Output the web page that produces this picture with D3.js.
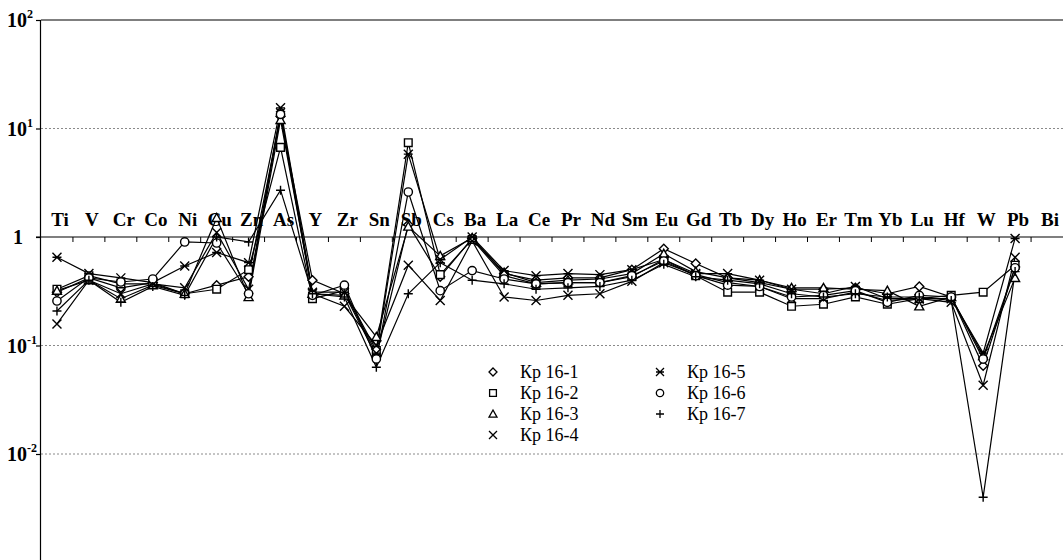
<!DOCTYPE html>
<html>
<head>
<meta charset="utf-8">
<script src="https://cdn.jsdelivr.net/npm/d3@7"></script>
<style>
  body { margin: 0; background: #fff; }
  .elem { font-family: "Liberation Serif", "Times New Roman", serif; font-weight: bold; font-size: 19px; }
  .ylab { font-family: "Liberation Serif", "Times New Roman", serif; font-weight: bold; font-size: 20px; }
  .leg { font-family: "Liberation Serif", "Times New Roman", serif; font-size: 18px; }
</style>
</head>
<body>
<div id="chart"></div>
<script>
// elements along the x axis
const elements = ["Ti","V","Cr","Co","Ni","Cu","Zn","As","Y","Zr","Sn","Sb","Cs","Ba","La","Ce","Pr","Nd","Sm","Eu","Gd","Tb","Dy","Ho","Er","Tm","Yb","Lu","Hf","W","Pb","Bi"];

// sample names
const samples = ["Кр 16-1","Кр 16-2","Кр 16-3","Кр 16-4","Кр 16-5","Кр 16-6","Кр 16-7"];

// normalised values, Ti .. Pb (no Bi data)
const kp16_1 = [0.31,0.42,0.34,0.38,0.30,0.36,0.43,13,0.40,0.30,0.080,1.3,0.43,0.97,0.46,0.40,0.42,0.42,0.50,0.78,0.57,0.42,0.38,0.33,0.33,0.34,0.30,0.35,0.28,0.065,0.53];
const kp16_2 = [0.33,0.44,0.37,0.37,0.30,0.33,0.50,6.7,0.27,0.32,0.090,7.4,0.45,0.95,0.44,0.37,0.38,0.38,0.43,0.62,0.44,0.31,0.31,0.23,0.24,0.28,0.24,0.27,0.29,0.31,0.55];
const kp16_3 = [0.32,0.40,0.27,0.36,0.30,1.5,0.28,12,0.30,0.29,0.12,1.25,0.67,0.98,0.47,0.38,0.40,0.41,0.46,0.70,0.48,0.42,0.40,0.34,0.34,0.33,0.32,0.23,0.28,0.080,0.42];
const kp16_4 = [0.158,0.40,0.30,0.37,0.34,1.1,0.33,14,0.30,0.23,0.10,0.55,0.26,0.92,0.28,0.26,0.29,0.30,0.39,0.58,0.45,0.38,0.35,0.27,0.27,0.31,0.26,0.27,0.25,0.043,0.65];
const kp16_5 = [0.65,0.46,0.42,0.38,0.54,0.72,0.58,15.5,0.31,0.31,0.085,5.8,0.62,1.0,0.49,0.44,0.46,0.45,0.50,0.62,0.46,0.46,0.40,0.33,0.30,0.35,0.27,0.27,0.27,0.085,0.97];
const kp16_6 = [0.257,0.42,0.385,0.41,0.90,0.88,0.30,13.5,0.29,0.36,0.075,2.6,0.32,0.49,0.41,0.37,0.38,0.38,0.44,0.60,0.44,0.36,0.35,0.28,0.29,0.32,0.25,0.29,0.28,0.075,0.52];
const kp16_7 = [0.208,0.40,0.25,0.35,0.29,1.0,0.90,2.7,0.30,0.28,0.063,0.30,0.58,0.40,0.37,0.33,0.34,0.35,0.40,0.56,0.43,0.40,0.37,0.30,0.28,0.30,0.28,0.28,0.26,0.004,0.48];

const seriesValues = [kp16_1, kp16_2, kp16_3, kp16_4, kp16_5, kp16_6, kp16_7];
const markers = ["diamond","square","triangle","cross","asterisk","circle","plus"];

// y tick values (decades)
const yTicks = [1e-2, 1e-1, 1, 1e1, 1e2];
const yTickExp = ["-2", "-1", "", "1", "2"];

const width = 1063, height = 560;
const plotLeft = 41, plotTop = 20;

const svg = d3.select("#chart")
  .append("svg")
    .attr("width", width)
    .attr("height", height);

const x = d3.scalePoint()
  .domain(elements)
  .range([plotLeft, width])
  .padding(0.5);

const y = d3.scaleLog()
  .domain([1e-3, 1e2])
  .range([plotTop + 5 * 108.5, plotTop]);

// dotted grid lines
svg.append("g")
  .selectAll("line")
  .data(yTicks.filter(d => d !== 1 && d !== 100))
  .join("line")
    .attr("x1", plotLeft)
    .attr("x2", width)
    .attr("y1", d => y(d))
    .attr("y2", d => y(d))
    .attr("stroke", "#8a8a8a")
    .attr("stroke-width", 1)
    .attr("stroke-dasharray", "2,2");

// top border
svg.append("line")
  .attr("x1", plotLeft).attr("x2", width)
  .attr("y1", y(100)).attr("y2", y(100))
  .attr("stroke", "#000").attr("stroke-width", 1.2);

// left axis
svg.append("g")
  .attr("transform", `translate(${plotLeft},0)`)
  .call(d3.axisLeft(y).tickValues(yTicks).tickSize(5).tickFormat(""))
  .call(g => g.select(".domain").attr("d", `M-0.5,${plotTop}V${height}`).attr("stroke-width", 1.2))
  .call(g => g.selectAll(".tick line").attr("stroke-width", 1.2));

// y labels with superscripts
yTicks.forEach((v, i) => {
  if (v === 1) {
    svg.append("text").attr("class", "ylab")
      .attr("x", 18).attr("y", y(v) + 7)
      .attr("text-anchor", "middle")
      .text("1");
  } else {
    const t = svg.append("text").attr("class", "ylab")
      .attr("x", 7).attr("y", y(v) + 7);
    t.append("tspan").text("10");
    t.append("tspan").attr("dy", -9).attr("font-size", 12).text(yTickExp[i]);
  }
});

// horizontal line at 1 with ticks between elements
svg.append("line")
  .attr("x1", plotLeft - 5).attr("x2", width)
  .attr("y1", y(1)).attr("y2", y(1))
  .attr("stroke", "#000").attr("stroke-width", 1.2);

svg.append("g")
  .selectAll("line")
  .data(elements.slice(1))
  .join("line")
    .attr("x1", d => x(d) - x.step() / 2)
    .attr("x2", d => x(d) - x.step() / 2)
    .attr("y1", y(1))
    .attr("y2", y(1) + 5)
    .attr("stroke", "#000");

// element labels above the line
svg.append("g")
  .selectAll("text")
  .data(elements)
  .join("text")
    .attr("class", "elem")
    .attr("x", d => x(d) + 3)
    .attr("y", y(1) - 11)
    .attr("text-anchor", "middle")
    .text(d => d);

// marker drawing
function markerPath(type, s) {
  const h = s / 2;
  switch (type) {
    case "diamond": return `M0,${-h}L${h},0L0,${h}L${-h},0Z`;
    case "square": return `M${-h*0.85},${-h*0.85}H${h*0.85}V${h*0.85}H${-h*0.85}Z`;
    case "triangle": return `M0,${-h}L${h},${h*0.8}L${-h},${h*0.8}Z`;
    case "cross": return `M${-h},${-h}L${h},${h}M${-h},${h}L${h},${-h}`;
    case "asterisk": return `M${-h},${-h}L${h},${h}M${-h},${h}L${h},${-h}M${-h},0H${h}`;
    case "circle": return d3.symbol(d3.symbolCircle, Math.PI * h * h * 0.85)();
    case "plus": return `M${-h},0H${h}M0,${-h}V${h}`;
  }
}
const filled = {diamond: true, square: true, triangle: true, circle: true};

const line = d3.line()
  .x((d, i) => x(elements[i]))
  .y(d => y(d));

// lines first
seriesValues.forEach(vals => {
  svg.append("path")
    .datum(vals)
    .attr("fill", "none")
    .attr("stroke", "#000")
    .attr("stroke-width", 1.2)
    .attr("d", line);
});

// then markers
seriesValues.forEach((vals, si) => {
  const m = markers[si];
  svg.append("g")
    .selectAll("path")
    .data(vals)
    .join("path")
      .attr("transform", (d, i) => `translate(${x(elements[i])},${y(d)})`)
      .attr("d", markerPath(m, 9))
      .attr("fill", filled[m] ? "#fff" : "none")
      .attr("stroke", "#000")
      .attr("stroke-width", 1.4);
});

// legend
const legRows = [372, 393, 414, 435];
samples.forEach((name, i) => {
  const col = i < 4 ? 0 : 1;
  const row = i < 4 ? i : i - 4;
  const lx = col === 0 ? 493 : 660;
  const ly = legRows[row];
  svg.append("path")
    .attr("transform", `translate(${lx},${ly})`)
    .attr("d", markerPath(markers[i], 8))
    .attr("fill", filled[markers[i]] ? "#fff" : "none")
    .attr("stroke", "#000")
    .attr("stroke-width", 1.3);
  svg.append("text")
    .attr("class", "leg")
    .attr("x", lx + 27)
    .attr("y", ly + 6)
    .text(name);
});
</script>
</body>
</html>
